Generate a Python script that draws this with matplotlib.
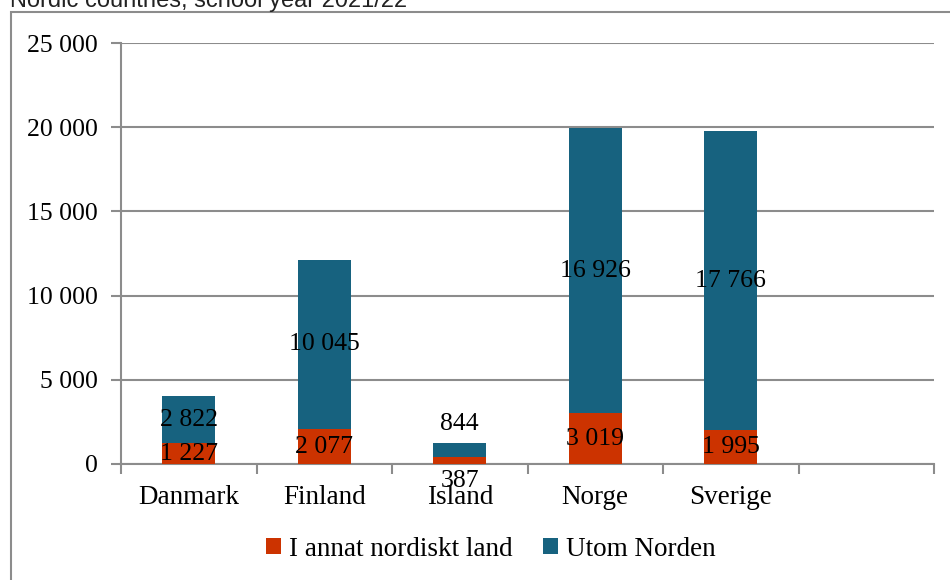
import matplotlib.pyplot as plt
from matplotlib.patches import Rectangle
import numpy as np

# data
countries = ['Danmark', 'Finland', 'Island', 'Norge', 'Sverige']
nordic = [1227, 2077, 387, 3019, 1995]
outside = [2822, 10045, 844, 16926, 17766]
series_names = ['I annat nordiskt land', 'Utom Norden']
y_ticks = [0, 5000, 10000, 15000, 20000, 25000]
y_tick_labels = ['0', '5 000', '10 000', '15 000', '20 000', '25 000']

red = '#CC3300'
blue = '#17627F'
grid_col = '#8C8C8C'


def fmt(v):
    return f'{v:,}'.replace(',', ' ')


plt.rcParams['font.family'] = ['Liberation Serif', 'DejaVu Serif']

fig = plt.figure(figsize=(9.5, 5.8), dpi=100)
ax = fig.add_axes([121 / 950, 1 - 464 / 580, (934 - 121) / 950, (464 - 43) / 580])

# outer frame of the chart box (right/bottom run off the picture)
fig.patches.append(Rectangle((11 / 950, -0.05), 1.1, 1 - 12 / 580 + 0.05,
                             transform=fig.transFigure, fill=False,
                             edgecolor='#8C8C8C', linewidth=1.5))
fig.text(10 / 950, 1 - 6.5 / 580, 'Nordic countries, school year 2021/22',
         family=['Liberation Sans', 'DejaVu Sans'], fontsize=17,
         color='#222222', va='baseline', ha='left')

x = np.arange(len(countries))
width = 0.39
b1 = ax.bar(x, nordic, width, color=red, label=series_names[0], zorder=3)
b2 = ax.bar(x, outside, width, bottom=nordic, color=blue, label=series_names[1], zorder=3)

# data labels
lab_fs = 18.5
for i in range(len(countries)):
    if countries[i] == 'Island':
        ax.annotate(fmt(outside[i]), (x[i], nordic[i] + outside[i]), xytext=(0, 14),
                    textcoords='offset points', ha='center', va='center', fontsize=lab_fs)
        ax.annotate(fmt(nordic[i]), (x[i], 0), xytext=(0, -12),
                    textcoords='offset points', ha='center', va='center', fontsize=lab_fs)
    else:
        ax.text(x[i], nordic[i] / 2, fmt(nordic[i]), ha='center', va='center', fontsize=lab_fs, zorder=4)
        ax.text(x[i], nordic[i] + outside[i] / 2, fmt(outside[i]), ha='center', va='center',
                fontsize=lab_fs, zorder=4)

ax.set_xlim(-0.5, 5.5)
ax.set_ylim(0, 25000)
ax.set_yticks(y_ticks)
ax.set_yticklabels(y_tick_labels, fontsize=18.5)
ax.set_xticks(x)
ax.set_xticklabels(countries, fontsize=19.5)
ax.set_xticks(np.arange(-0.5, 6, 1), minor=True)
ax.tick_params(axis='x', which='major', length=0, pad=15)
ax.tick_params(axis='x', which='minor', length=7, color=grid_col, width=1.5)
ax.tick_params(axis='y', length=7, color=grid_col, width=1.5, pad=10)

ax.yaxis.grid(True, color=grid_col, linewidth=1.5, zorder=0)
for s in ['top', 'right']:
    ax.spines[s].set_visible(False)
for s in ['left', 'bottom']:
    ax.spines[s].set_color(grid_col)
    ax.spines[s].set_linewidth(1.5)

fig.legend(handles=[b1, b2], labels=series_names, loc='center', bbox_to_anchor=(491 / 950, 1 - 549 / 580),
           ncol=2, frameon=False, fontsize=19.5, handlelength=0.55, handleheight=0.55,
           handletextpad=0.3, columnspacing=1.1)

fig.savefig('out.png', dpi=100)
